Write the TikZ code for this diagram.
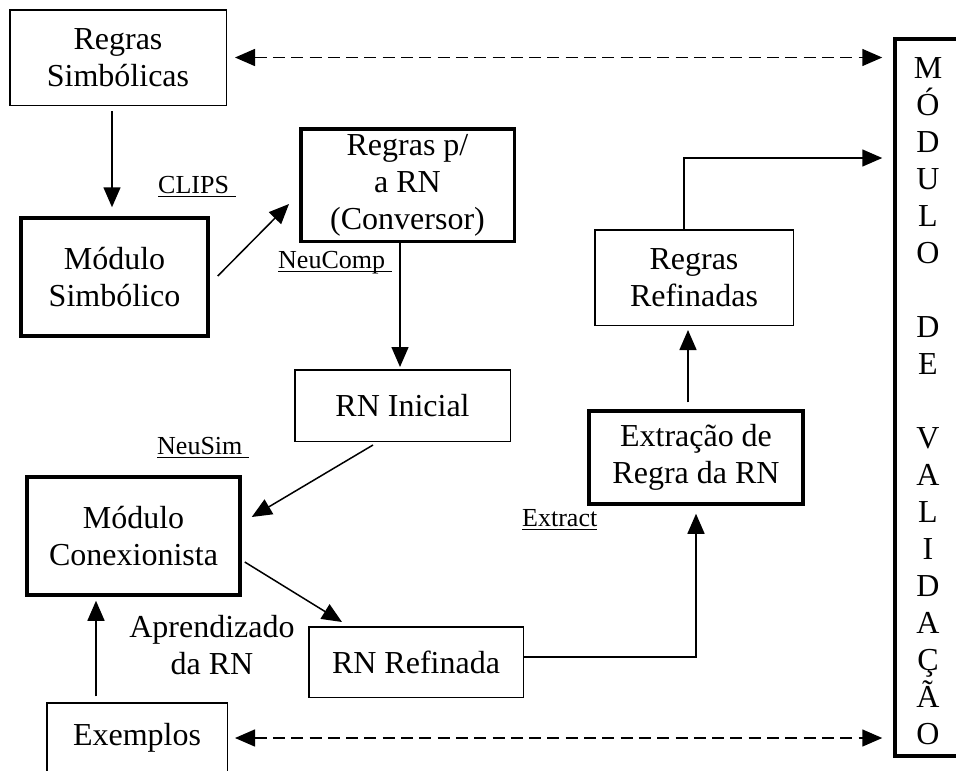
\documentclass[tikz,border=0pt]{standalone}
\usepackage{fontspec}
\setmainfont{Liberation Serif}
\usetikzlibrary{arrows.meta}

% text sizes used in the flow chart
\newcommand\boxfont{\fontsize{32}{37}\selectfont}
\newcommand\tagfont{\fontsize{26}{30}\selectfont}
% tool names: underlined at a fixed depth, the rule running under trailing spaces too
\newcommand\toolname[1]{\setbox0\hbox{#1}\rlap{\rule[-4pt]{\wd0}{1.3pt}}\box0}

\begin{document}
\begin{tikzpicture}[x=1pt,y=-1pt,
  thinbox/.style={draw, line width=1.5pt, align=center, inner sep=0pt, font=\boxfont},
  thickbox/.style={draw, line width=3.5pt, align=center, inner sep=0pt, font=\boxfont},
  tool/.style={inner sep=0pt, anchor=base west, font=\tagfont},
  arr/.style={line width=1.5pt, -{Triangle[length=20pt,width=17pt]}},
  darr/.style={line width=1.5pt, dash pattern=on 12pt off 6.3pt,
    {Triangle[length=20pt,width=17pt]}-{Triangle[length=20pt,width=17pt]}}
]
\useasboundingbox (0,0) rectangle (956,771);
\clip (0,0) rectangle (956,771);

% boxes
\node[thinbox, minimum width=216.5pt, minimum height=95.5pt] (rs) at (118,57.5) {Regras\\Simbólicas};
\node[thickbox, minimum width=187pt, minimum height=118pt] (ms) at (114.5,277) {Módulo\\Simbólico};
\node[thickbox, minimum width=213.5pt, minimum height=112.5pt] (conv) at (407.5,185) {Regras p/\\a RN\\(Conversor)};
\node[thinbox, minimum width=215.5pt, minimum height=71.5pt] (ri) at (402.5,405.5) {RN Inicial};
\node[thickbox, minimum width=213pt, minimum height=118pt] (mc) at (133.5,536) {Módulo\\Conexionista};
\node[thinbox, minimum width=214.5pt, minimum height=70.5pt] (rrn) at (416,662) {RN Refinada};
\node[thinbox, minimum width=180.5pt, minimum height=70pt] (ex) at (137,738) {Exemplos};
\node[thinbox, minimum width=198.5pt, minimum height=95.5pt] (rref) at (694,277.5) {Regras\\Refinadas};
\node[thickbox, minimum width=214pt, minimum height=93pt] (extr) at (696,457.5) {Extração de\\Regra da RN};

% validation module: tall frame with its name written one letter per line
\node[thickbox, minimum width=66pt, minimum height=717pt] (val) at (928,397.5) {};
\node[align=center, inner sep=0pt, font=\boxfont] (valname) at (928,401)
  {M\\Ó\\D\\U\\L\\O\\\mbox{}\\D\\E\\\mbox{}\\V\\A\\L\\I\\D\\A\\Ç\\Ã\\O};

% free text
\node[tool] (clips) at (158,193) {\toolname{CLIPS\ }};
\node[tool] (neucomp) at (278,268) {\toolname{NeuComp\ }};
\node[tool] (neusim) at (157,454) {\toolname{NeuSim\ }};
\node[tool] (extract) at (522,526) {\toolname{Extract}};
\node[align=center, inner sep=0pt, font=\boxfont] (learn) at (212,645) {Aprendizado\\da RN};

% flow
\draw[arr, shorten <=5pt, shorten >=9pt] ([xshift=-6pt]rs.south) -- ([xshift=-6pt]rs.south |- ms.north);
\draw[arr] ([xshift=8pt,yshift=1pt]ms.east) -- ([xshift=-10pt,yshift=-19pt]conv.west);
\draw[arr, shorten >=2pt] ([xshift=-7.5pt]conv.south) -- ([xshift=-7.5pt]conv.south |- ri.north);
\draw[arr] ([xshift=-29.5pt,yshift=-3pt]ri.south) -- ([xshift=10pt,yshift=19pt]mc.east);
\draw[arr] ([xshift=3pt,yshift=-26pt]mc.east) -- ([xshift=-74pt,yshift=4pt]rrn.north);
\draw[arr, shorten >=4pt] ([xshift=-41pt,yshift=6pt]ex.north) -- ([xshift=-41pt]ex.north |- mc.south);
\draw[arr, shorten >=8pt] ([yshift=5pt]rrn.east) -| (extr.south);
\draw[arr, shorten <=7pt, shorten >=4pt] ([xshift=-8pt]extr.north) -- ([xshift=-8pt]extr.north |- rref.south);
\draw[arr, shorten >=11pt] ([xshift=-10pt]rref.north) |- ([yshift=239.5pt]val.west);

% exchanges with the validation module
\draw[darr, shorten <=8pt, shorten >=11pt] (rs.east) -- (rs.east -| val.west);
\draw[darr, shorten <=7pt, shorten >=11pt] (ex.east) -- (ex.east -| val.west);
\end{tikzpicture}
\end{document}
